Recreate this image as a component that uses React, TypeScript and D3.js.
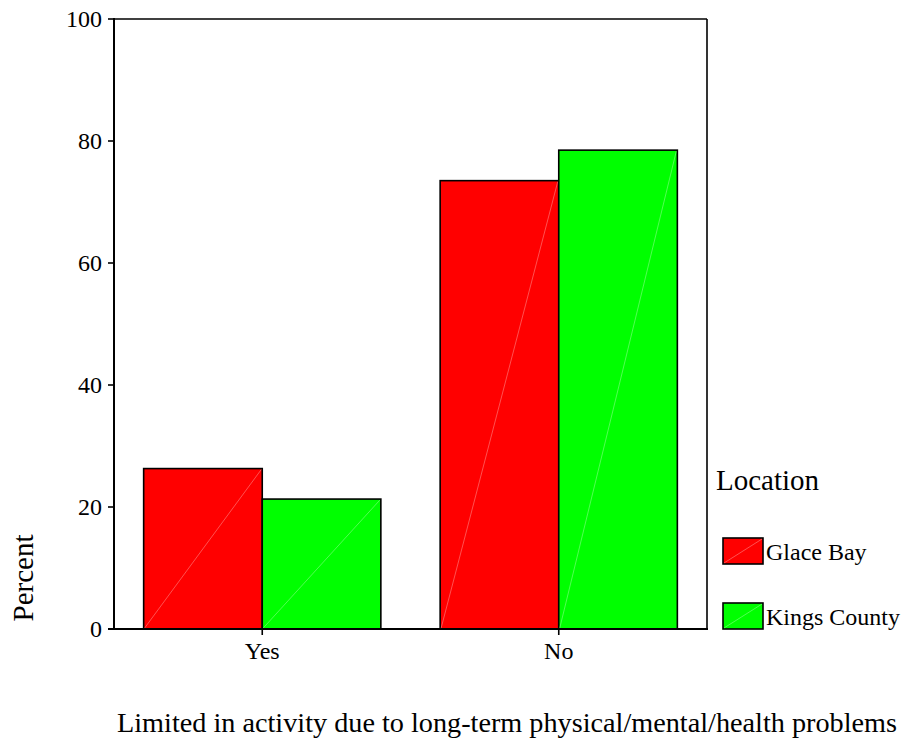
import React from "react";
import * as d3 from "d3";

const categories = ["Yes", "No"];
const seriesNames = ["Glace Bay", "Kings County"];
const glaceBay = [26.3, 73.5];
const kingsCounty = [21.3, 78.5];
const yTicks = [0, 20, 40, 60, 80, 100];
const colors = ["#ff0000", "#00ff00"];

const W = 906;
const H = 744;
const M = { left: 114, top: 19, right: 707, bottom: 629 };
const FONT = "'Liberation Serif', 'Times New Roman', serif";

export default function App() {
  const series = [glaceBay, kingsCounty];
  const y = d3.scaleLinear().domain([0, 100]).range([M.bottom, M.top]);
  const x0 = d3.scaleBand<string>().domain(categories).range([M.left, M.right]).paddingInner(0).paddingOuter(0);
  const x1 = d3
    .scaleBand<string>()
    .domain(seriesNames)
    .range([0, x0.bandwidth() * 0.8]);
  const groupOffset = x0.bandwidth() * 0.1;

  return (
    <svg width={W} height={H} style={{ position: "absolute", left: 0, top: 0, background: "#fff" }}>
      <rect x={0} y={0} width={W} height={H} fill="#fff" />
      {categories.map((c, ci) =>
        seriesNames.map((s, si) => {
          const bx = (x0(c) as number) + groupOffset + (x1(s) as number);
          const bw = x1.bandwidth();
          const by = y(series[si][ci]);
          const bh = y(0) - by;
          return (
            <g key={c + s}>
              <rect x={bx} y={by} width={bw} height={bh} fill={colors[si]} stroke="#000" strokeWidth={1.6} />
              <line x1={bx + 1} y1={y(0) - 1} x2={bx + bw - 1} y2={by + 1} stroke="#fff" strokeOpacity={0.45} strokeWidth={0.7} />
            </g>
          );
        })
      )}
      <line x1={M.left} y1={M.top} x2={M.right} y2={M.top} stroke="#000" strokeWidth={1.6} />
      <line x1={M.right} y1={M.top} x2={M.right} y2={M.bottom} stroke="#000" strokeWidth={1.6} />
      <line x1={M.left} y1={M.top - 1} x2={M.left} y2={M.bottom + 1} stroke="#000" strokeWidth={2} />
      <line x1={M.left - 6} y1={M.bottom} x2={M.right + 1} y2={M.bottom} stroke="#000" strokeWidth={2} />
      {yTicks.map((t) => (
        <g key={t}>
          <line x1={M.left - 6} x2={M.left} y1={y(t)} y2={y(t)} stroke="#000" strokeWidth={1.6} />
          <text x={M.left - 12} y={y(t)} dy="0.34em" textAnchor="end" fontFamily={FONT} fontSize={24} fill="#000">
            {t}
          </text>
        </g>
      ))}
      {categories.map((c) => {
        const cx = (x0(c) as number) + groupOffset + x1.bandwidth();
        return (
          <g key={c}>
            <line x1={cx} x2={cx} y1={M.bottom} y2={M.bottom + 6} stroke="#000" strokeWidth={1.6} />
            <text x={cx} y={659} textAnchor="middle" fontFamily={FONT} fontSize={24} fill="#000">
              {c}
            </text>
          </g>
        );
      })}
      <text transform="translate(33,578) rotate(-90)" textAnchor="middle" fontFamily={FONT} fontSize={29} fill="#000">
        Percent
      </text>
      <text x={117} y={732} fontFamily={FONT} fontSize={28} textLength={780} lengthAdjust="spacingAndGlyphs" fill="#000">
        Limited in activity due to long-term physical/mental/health problems
      </text>
      <text x={716} y={490} fontFamily={FONT} fontSize={29} fill="#000">
        Location
      </text>
      {seriesNames.map((s, i) => {
        const ly = 538 + i * 65;
        return (
          <g key={s}>
            <rect x={723} y={ly} width={40} height={26} fill={colors[i]} stroke="#000" strokeWidth={1.6} />
            <line x1={724} y1={ly + 25} x2={762} y2={ly + 1} stroke="#fff" strokeOpacity={0.45} strokeWidth={0.7} />
            <text x={766} y={ly + 22} fontFamily={FONT} fontSize={24} fill="#000">
              {s}
            </text>
          </g>
        );
      })}
    </svg>
  );
}
